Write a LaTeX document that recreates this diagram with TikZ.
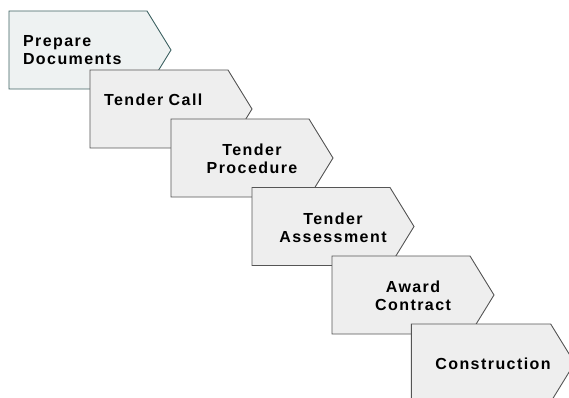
\documentclass[tikz,border=0pt]{standalone}
\usepackage{fontspec}
\setmainfont{Liberation Sans}[LetterSpace=9]
\usetikzlibrary{shapes.symbols}

\definecolor{stepfill}{HTML}{EEEEEE}
\definecolor{stepline}{HTML}{555555}
\definecolor{firstfill}{HTML}{EEF2F2}
\definecolor{firstline}{HTML}{3F6464}

% centre the text on the whole arrow, pointer included
\newcommand{\steptext}[1]{\hspace*{24pt}\raisebox{-3pt}[\height][\depth]{\begin{tabular}{@{}c@{}}#1\end{tabular}}}

\begin{document}
\begin{tikzpicture}[
  x=1pt, y=-1pt,
  font=\fontsize{16}{18}\selectfont\bfseries,
  stepbox/.style={signal, signal to=east, signal pointer angle=116.8,
                  draw=stepline, fill=stepfill, line width=0.9pt,
                  minimum width=162pt, minimum height=78pt,
                  inner sep=0pt, align=center},
  firstbox/.style={stepbox, draw=firstline, fill=firstfill},
  lefttext/.style={text width=110pt, align=left},
]
\useasboundingbox (0,0) rectangle (569,398);
\begin{scope}
\clip (0,0) rectangle (569,398);
\node[firstbox, lefttext] (prep) at (78,50) {Prepare\\Documents};
\node[stepbox, lefttext] (call) at (159,109) {Tender Call\\\mbox{}};
\node[stepbox] (proc) at (240,158) {\steptext{Tender\\Procedure}};
\node[stepbox] (asse) at (321,226.5) {\steptext{Tender\\Assessment}};
\node[stepbox] (award) at (401,295) {\steptext{Award\\Contract}};
\node[stepbox] (cons) at (481,363) {\steptext{Construction}};
\end{scope}
\end{tikzpicture}
\end{document}
